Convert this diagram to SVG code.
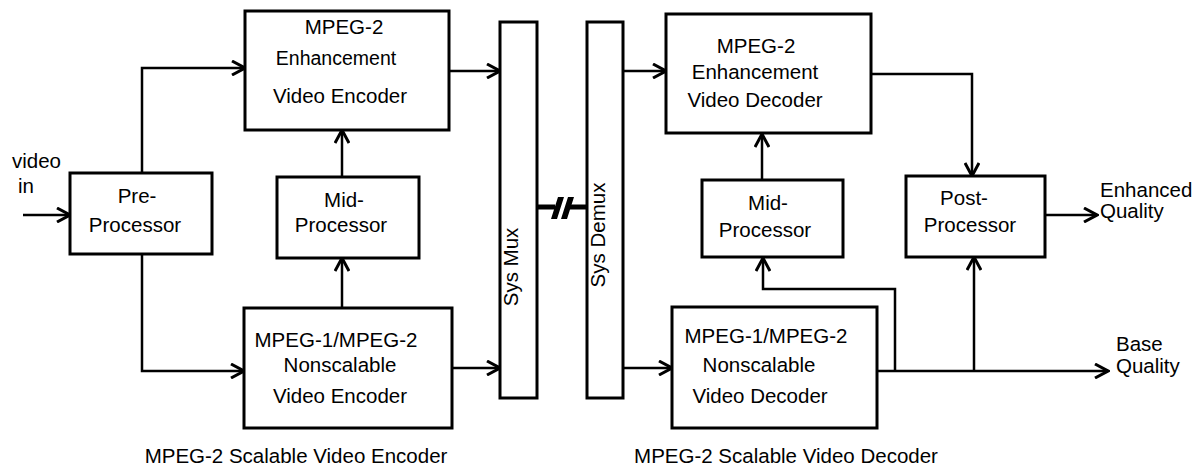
<svg xmlns="http://www.w3.org/2000/svg" width="1199" height="470" viewBox="0 0 1199 470">
<defs>
<style>
.box{fill:#fff;stroke:#000;stroke-width:3}
.ln{fill:none;stroke:#000;stroke-width:2.5}
.ar{marker-end:url(#arr)}
text{font-family:"Liberation Sans",Arial,sans-serif;font-size:20.5px;fill:#000}
.c{text-anchor:middle}
</style>
<marker id="arr" viewBox="0 0 16 16" refX="14" refY="8" markerWidth="16" markerHeight="16" markerUnits="userSpaceOnUse" orient="auto">
<path d="M1,1 L14,8 L1,15" fill="none" stroke="#000" stroke-width="3"/>
</marker>
</defs>
<rect width="1199" height="470" fill="#fff"/>
<g id="connectors">
<path class="ln ar" d="M23,215 H70"/>
<path class="ln ar" d="M142,173 V68 H245"/>
<path class="ln ar" d="M142,254 V371 H244"/>
<path class="ln ar" d="M342,177 V130"/>
<path class="ln ar" d="M342,308 V258"/>
<path class="ln ar" d="M449,71 H500"/>
<path class="ln ar" d="M452,368 H500"/>
<path class="ln ar" d="M623,71 H666"/>
<path class="ln ar" d="M623,368 H672"/>
<path class="ln ar" d="M762,180 V134"/>
<path class="ln ar" d="M877,371 H1108"/>
<path class="ln ar" d="M895,371 V289 H763 V258"/>
<path class="ln ar" d="M974,371 V257"/>
<path class="ln ar" d="M871,74 H972 V176"/>
<path class="ln ar" d="M1042,215 H1097"/>
<path d="M537,207 H555 M570,207 H587" fill="none" stroke="#000" stroke-width="5"/>
<path d="M551,219 L557,219 L564,197 L558,197 Z M561,219 L567,219 L574,197 L568,197 Z" fill="#000"/>
</g>
<g id="pre">
<rect class="box" x="70" y="173" width="142" height="81"/>
<text class="c" x="137" y="203">Pre-</text>
<text class="c" x="135" y="232">Processor</text>
</g>
<g id="enh-enc">
<rect class="box" x="245" y="11" width="204" height="119"/>
<text class="c" x="344" y="34">MPEG-2</text>
<text class="c" x="336" y="65" style="font-size:19.5px">Enhancement</text>
<text class="c" x="340" y="103">Video Encoder</text>
</g>
<g id="mid-enc">
<rect class="box" x="277" y="177" width="142" height="81"/>
<text class="c" x="344" y="207">Mid-</text>
<text class="c" x="341" y="232">Processor</text>
</g>
<g id="base-enc">
<rect class="box" x="244" y="308" width="208" height="120"/>
<text class="c" x="336" y="347">MPEG-1/MPEG-2</text>
<text class="c" x="340" y="372">Nonscalable</text>
<text class="c" x="340" y="403">Video Encoder</text>
</g>
<g id="mux">
<rect class="box" x="500" y="22" width="37" height="376"/>
<text class="c" transform="translate(518,267) rotate(-90)">Sys Mux</text>
</g>
<g id="demux">
<rect class="box" x="587" y="22" width="36" height="376"/>
<text class="c" transform="translate(605,235) rotate(-90)">Sys Demux</text>
</g>
<g id="enh-dec">
<rect class="box" x="666" y="14" width="205" height="119"/>
<text class="c" x="756" y="53">MPEG-2</text>
<text class="c" x="755" y="79">Enhancement</text>
<text class="c" x="755" y="107">Video Decoder</text>
</g>
<g id="mid-dec">
<rect class="box" x="702" y="180" width="141" height="77"/>
<text class="c" x="768" y="210">Mid-</text>
<text class="c" x="765" y="237">Processor</text>
</g>
<g id="base-dec">
<rect class="box" x="672" y="307" width="205" height="121"/>
<text class="c" x="766" y="343">MPEG-1/MPEG-2</text>
<text class="c" x="759" y="372">Nonscalable</text>
<text class="c" x="760" y="403">Video Decoder</text>
</g>
<g id="post">
<rect class="box" x="906" y="176" width="139" height="81"/>
<text class="c" x="964" y="205">Post-</text>
<text class="c" x="970" y="232">Processor</text>
</g>
<g id="labels">
<text x="12" y="168">video</text>
<text x="18" y="193">in</text>
<text x="1100" y="197">Enhanced</text>
<text x="1100" y="218">Quality</text>
<text x="1116" y="351">Base</text>
<text x="1116" y="373">Quality</text>
<text class="c" x="296" y="463">MPEG-2 Scalable Video Encoder</text>
<text class="c" x="786" y="463">MPEG-2 Scalable Video Decoder</text>
</g>
</svg>
